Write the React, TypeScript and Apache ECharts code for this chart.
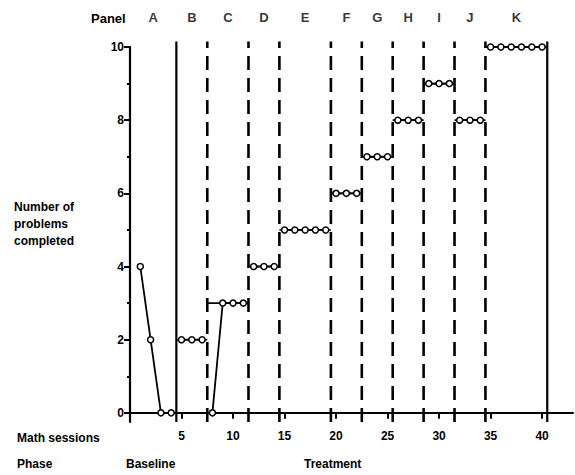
import React, { useEffect, useRef } from "react";
import * as echarts from "echarts";

// Sessions 1..40, number of problems completed
const sessionValues = [4, 2, 0, 0, 2, 2, 2, 0, 3, 3, 3, 4, 4, 4, 5, 5, 5, 5, 5, 6, 6, 6, 7, 7, 7, 8, 8, 8, 9, 9, 9, 8, 8, 8, 10, 10, 10, 10, 10, 10];
const panelNames = ["A", "B", "C", "D", "E", "F", "G", "H", "I", "J", "K"];
// right edge of each panel (session units)
const panelEnds = [4.5, 7.5, 11.5, 14.5, 19.5, 22.5, 25.5, 28.5, 31.5, 34.5, 40.5];
const criterionLevels = [null, 2, 3, 4, 5, 6, 7, 8, 9, 8, 10];
const xTickValues = [5, 10, 15, 20, 25, 30, 35, 40];
const yTickValues = [0, 2, 4, 6, 8, 10];
const yMinorTicks = [1, 3, 5, 7, 9];

const FONT = "'Liberation Sans Narrow', 'Liberation Sans', Arial, sans-serif";

export default function App() {
  const ref = useRef<HTMLDivElement>(null);
  useEffect(() => {
    if (!ref.current) return;
    const chart = echarts.init(ref.current, undefined, { renderer: "svg" });
    const series: any[] = [];
    const yBottom = -0.25;
    const yTop = 10.15;

    // criterion lines
    panelNames.forEach((p, i) => {
      const lvl = criterionLevels[i];
      if (lvl == null) return;
      const start = i === 0 ? 0 : panelEnds[i - 1];
      series.push({
        type: "line",
        data: [[start, lvl], [panelEnds[i], lvl]],
        symbol: "none",
        lineStyle: { color: "#000", width: 1.6 },
        z: 2,
        silent: true,
      });
    });

    // phase / criterion-change vertical lines
    panelEnds.forEach((x, i) => {
      const solid = i === 0 || i === panelEnds.length - 1;
      series.push({
        type: "line",
        data: [[x, yBottom], [x, yTop]],
        symbol: "none",
        clip: false,
        lineStyle: {
          color: "#000",
          width: solid ? 2.2 : 2.6,
          type: solid ? "solid" : [14, 8],
        },
        z: 3,
        silent: true,
      });
    });

    // data series, one per panel
    panelNames.forEach((p, i) => {
      const start = i === 0 ? 0 : panelEnds[i - 1];
      const end = panelEnds[i];
      const pts: number[][] = [];
      sessionValues.forEach((v, k) => {
        const s = k + 1;
        if (s > start && s < end) pts.push([s, v]);
      });
      series.push({
        type: "line",
        data: pts,
        symbol: "circle",
        symbolSize: 6,
        itemStyle: { color: "#fff", borderColor: "#000", borderWidth: 1.5 },
        lineStyle: { color: "#000", width: 1.8 },
        z: 5,
        clip: false,
      });
    });

    // panel labels
    series.push({
      type: "scatter",
      data: panelNames.map((p, i) => {
        const start = i === 0 ? 0 : panelEnds[i - 1];
        return { value: [(start + panelEnds[i]) / 2, 10.8], name: p };
      }),
      symbolSize: 0,
      clip: false,
      silent: true,
      label: {
        show: true,
        position: "inside",
        formatter: (d: any) => d.name,
        color: "#000",
        fontFamily: FONT,
        fontSize: 13,
        fontWeight: "bold",
      },
    });

    chart.setOption({
      animation: false,
      grid: { left: 130, right: 2, top: 47, bottom: 53 },
      xAxis: {
        type: "value",
        min: 0,
        max: 43,
        axisLine: { lineStyle: { color: "#000", width: 2 } },
        axisTick: { customValues: xTickValues, length: 6, inside: false, lineStyle: { color: "#000", width: 2 } },
        axisLabel: {
          customValues: xTickValues,
          color: "#000",
          fontFamily: FONT,
          fontWeight: "bold",
          fontSize: 12,
          margin: 8,
        },
        splitLine: { show: false },
      },
      yAxis: [
        {
          type: "value",
          min: yBottom,
          max: 10,
          axisLine: { show: true, lineStyle: { color: "#000", width: 2.2 } },
          axisTick: { show: true, customValues: yTickValues, length: 6, lineStyle: { color: "#000", width: 2 } },
          axisLabel: {
            customValues: yTickValues,
            color: "#000",
            fontFamily: FONT,
            fontWeight: "bold",
            fontSize: 12,
            margin: 6,
          },
          splitLine: { show: false },
        },
        {
          type: "value",
          min: yBottom,
          max: 10,
          position: "left",
          axisLine: { show: false },
          axisTick: { show: true, customValues: yMinorTicks, length: 3, lineStyle: { color: "#000", width: 2 } },
          axisLabel: { show: false },
          splitLine: { show: false },
        },
      ],
      series,
      graphic: [
        {
          type: "text",
          left: 91,
          top: 12,
          style: { text: "Panel", fill: "#000", font: `bold 13px ${FONT}` },
        },
        {
          type: "text",
          left: 14,
          top: 198,
          style: {
            text: "Number of\nproblems\ncompleted",
            fill: "#000",
            font: `bold 12px ${FONT}`,
            lineHeight: 17,
          },
        },
        {
          type: "text",
          left: 17,
          top: 432,
          style: { text: "Math sessions", fill: "#000", font: `bold 12px ${FONT}` },
        },
        {
          type: "text",
          left: 17,
          top: 458,
          style: { text: "Phase", fill: "#000", font: `bold 12px ${FONT}` },
        },
        {
          type: "text",
          left: 126,
          top: 458,
          style: { text: "Baseline", fill: "#000", font: `bold 12px ${FONT}` },
        },
        {
          type: "text",
          left: 304,
          top: 458,
          style: { text: "Treatment", fill: "#000", font: `bold 12px ${FONT}` },
        },
      ],
    });
    return () => chart.dispose();
  }, []);
  return <div ref={ref} style={{ width: 575, height: 475, position: "absolute", left: 0, top: 0 }} />;
}
